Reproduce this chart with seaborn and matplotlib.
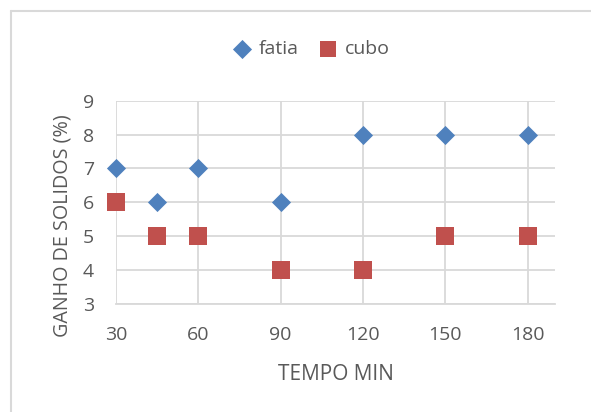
import pandas as pd
import matplotlib.pyplot as plt
import seaborn as sns
from matplotlib.lines import Line2D

# data
tempo = [30, 45, 60, 90, 120, 150, 180]
fatia = [7, 6, 7, 6, 8, 8, 8]
cubo = [6, 5, 5, 4, 4, 5, 5]
x_ticks = [30, 60, 90, 120, 150, 180]
y_ticks = [3, 4, 5, 6, 7, 8, 9]

df = pd.concat([
    pd.DataFrame({'tempo': tempo, 'ganho': fatia, 'serie': 'fatia'}),
    pd.DataFrame({'tempo': tempo, 'ganho': cubo, 'serie': 'cubo'}),
]).reset_index(drop = True)

sns.set_theme(style = 'white')
plt.rcParams['font.family'] = ['Open Sans', 'DejaVu Sans']

text_col = '#595959'
grid_col = '#D9D9D9'

fig = plt.figure(figsize = (5.91, 4.12), dpi = 100)
ax = fig.add_axes([116 / 591, 1 - 304 / 412, (555 - 116) / 591, (304 - 100.7) / 412])

sns.scatterplot(ax = ax,
                data = df[df['serie'] == 'fatia'],
                x = 'tempo', y = 'ganho',
                color = '#4F81BD', marker = 'D', s = 95,
                linewidth = 0, zorder = 3, label = 'fatia', clip_on = False)
sns.scatterplot(ax = ax,
                data = df[df['serie'] == 'cubo'],
                x = 'tempo', y = 'ganho',
                color = '#C0504D', marker = 's', s = 150,
                linewidth = 0, zorder = 3, label = 'cubo', clip_on = False)

ax.set_xlim(30, 190)
ax.set_ylim(3, 9)
ax.set_xticks(x_ticks)
ax.set_yticks(y_ticks)
ax.grid(True, color = grid_col, linewidth = 1.3)
ax.set_axisbelow(True)
for side in ['top', 'right', 'left']:
    ax.spines[side].set_visible(False)
ax.spines['bottom'].set_color(grid_col)
ax.spines['bottom'].set_linewidth(1.3)
ax.tick_params(length = 0, labelsize = 14, colors = text_col)
ax.tick_params(axis = 'x', pad = 16)
ax.tick_params(axis = 'y', pad = 16)

ax.set_xlabel('TEMPO MIN', fontsize = 15, color = text_col, labelpad = 14)
ax.set_ylabel('GANHO DE SOLIDOS (%)', fontsize = 14.2, color = text_col)
# Excel puts the axis title a bit lower than the plot centre
ax.yaxis.set_label_coords(-0.100, 0.384)

leg = ax.legend(loc = 'center', bbox_to_anchor = (310 / 591, 1 - 49 / 412),
                bbox_transform = fig.transFigure, ncol = 2, frameon = False,
                fontsize = 14, labelcolor = text_col, handletextpad = 0.25,
                columnspacing = 0.9, handlelength = 1.2)
for h, size in zip(leg.legend_handles, [95, 120]):
    h.set_sizes([size])

# chart area border (cropped on the right and bottom in the original)
fig.add_artist(Line2D([11 / 591, 11 / 591], [0, 1 - 11 / 412], color = grid_col, linewidth = 1.5))
fig.add_artist(Line2D([11 / 591, 1], [1 - 11 / 412, 1 - 11 / 412], color = grid_col, linewidth = 1.5))

fig.savefig('out.png', dpi = 100)
plt.close()
